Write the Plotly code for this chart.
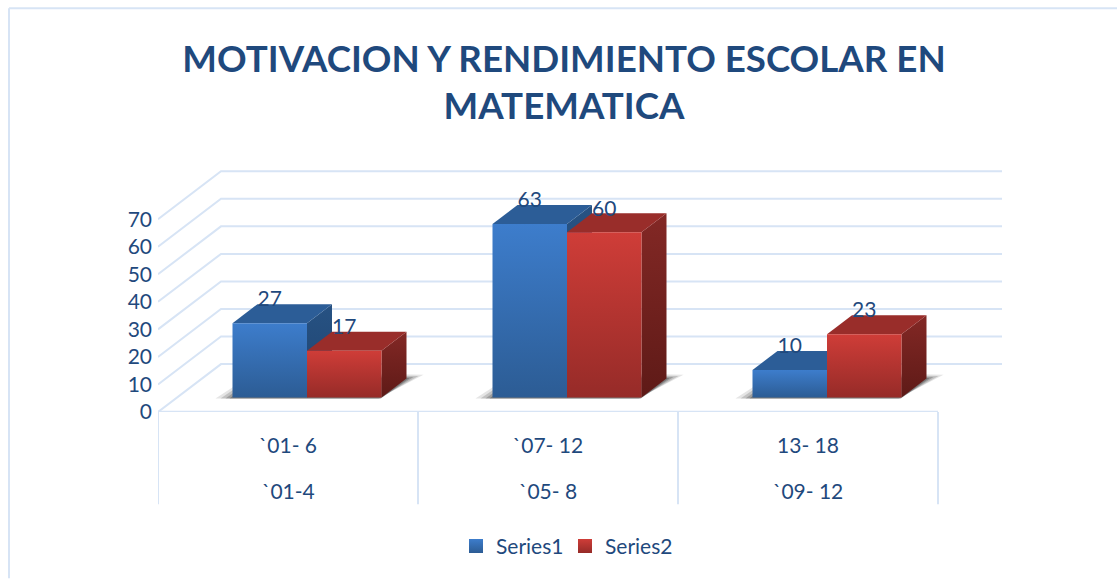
import plotly.graph_objects as go

# ---- data ----
title_text = "MOTIVACION Y RENDIMIENTO ESCOLAR EN<br>MATEMATICA"
row1_labels = ["`01- 6", "`07- 12", "13- 18"]
row2_labels = ["`01-4", "`05- 8", "`09- 12"]
series1 = [27, 63, 10]
series2 = [17, 60, 23]
series_names = ["Series1", "Series2"]
y_ticks = [0, 10, 20, 30, 40, 50, 60, 70]

# ---- layout geometry ----
W, H = 1117, 579
PL, PR, PT, PB = 158, 1002, 160, 412.5      # plot box in pixels
PX_PER_CAT = 260.0
PX_PER_VAL = 2.76
x_rng = [-0.5, -0.5 + (PR - PL) / PX_PER_CAT]
y_rng = [0, (PB - PT) / PX_PER_VAL]


def dx(px):
    return px / PX_PER_CAT


def dy(px):
    return px / PX_PER_VAL


def paper_x(px):
    return (px - PL) / (PR - PL)


def paper_y(px):
    return (PB - px) / (PB - PT)


WALL_DX, WALL_DY = dx(63), dy(48)
BAR_W = dx(74.5)
DEPTH_X, DEPTH_Y = dx(25), dy(19)
FLOOR_X, FLOOR_Y = dx(19), dy(14.5)

TEXT = "#1F497D"
GRID = "#D7E4F5"
FONT = "Lato"

styles = [
    dict(front=["#3D7DCC", "#2C5C94"], top="#2C5D97", side=["#275283", "#1F4470"]),
    dict(front=["#CF3D38", "#962B28"], top="#992D2A", side=["#832825", "#5E1A17"]),
]

fig = go.Figure()


def poly(xs, ys, **kw):
    fig.add_trace(go.Scatter(x=xs + xs[:1], y=ys + ys[:1], mode="lines", fill="toself",
                             line=dict(width=0), hoverinfo="skip", showlegend=False, **kw))


# grid: front-left diagonals and back wall lines
for v in y_ticks:
    fig.add_trace(go.Scatter(x=[-0.5, -0.5 + WALL_DX, x_rng[1]],
                             y=[v, v + WALL_DY, v + WALL_DY],
                             mode="lines", line=dict(color=GRID, width=2),
                             hoverinfo="skip", showlegend=False, cliponaxis=False))
# floor front edge
fig.add_trace(go.Scatter(x=[-0.5, 2.5], y=[0, 0], mode="lines",
                         line=dict(color=GRID, width=2.5), hoverinfo="skip",
                         showlegend=False, cliponaxis=False))

# floor shadows
for i in range(3):
    x0 = i + FLOOR_X - BAR_W
    x1 = i + FLOOR_X + BAR_W
    for grow, alpha in [(17, 0.12), (12, 0.18), (7, 0.24), (3, 0.3)]:
        g = dx(grow)
        lift = dy(grow * 0.22)
        poly([x0 - g, x1 - g * 0.2, x1 + DEPTH_X + g, x0 + DEPTH_X],
             [FLOOR_Y - dy(1), FLOOR_Y - dy(1), FLOOR_Y + DEPTH_Y + lift, FLOOR_Y + DEPTH_Y + lift * 2],
             fillcolor=f"rgba(40,40,40,{alpha})")

# bars: one prism per value
for i in range(3):
    for s, values in enumerate([series1, series2]):
        st = styles[s]
        v = values[i]
        x0 = i + FLOOR_X - BAR_W + s * BAR_W
        x1 = x0 + BAR_W
        b = FLOOR_Y
        t = FLOOR_Y + v
        # side
        poly([x1, x1 + DEPTH_X, x1 + DEPTH_X, x1], [b, b + DEPTH_Y, t + DEPTH_Y, t],
             fillgradient=dict(type="vertical", colorscale=[[0, st["side"][1]], [1, st["side"][0]]]))
        # top
        poly([x0, x1, x1 + DEPTH_X, x0 + DEPTH_X], [t, t, t + DEPTH_Y, t + DEPTH_Y],
             fillcolor=st["top"])
        # front
        poly([x0, x1, x1, x0], [b, b, t, t],
             fillgradient=dict(type="vertical", colorscale=[[0, st["front"][1]], [1, st["front"][0]]]))

# value labels
for s, values in enumerate([series1, series2]):
    fig.add_trace(go.Scatter(
        x=[i + FLOOR_X - BAR_W + (s + 0.5) * BAR_W for i in range(3)],
        y=[FLOOR_Y + v + DEPTH_Y + dy(3) for v in values],
        mode="text", text=[str(v) for v in values], textposition="middle center",
        textfont=dict(family=FONT, size=21, color=TEXT),
        hoverinfo="skip", showlegend=False, cliponaxis=False))

# legend entries
for s, name in enumerate(series_names):
    fig.add_trace(go.Scatter(
        x=[None], y=[None], mode="markers", name=name,
        marker=dict(symbol="square", size=14, color=styles[s]["front"][0],
                    gradient=dict(type="vertical", color=styles[s]["front"][1]))))

shapes = []
for k in range(4):
    shapes.append(dict(type="line", xref="x", yref="paper", x0=-0.5 + k, x1=-0.5 + k,
                       y0=0, y1=paper_y(505), line=dict(color=GRID, width=2), layer="below"))
# outer chart frame
shapes.append(dict(type="line", xref="paper", yref="paper", x0=paper_x(9), x1=paper_x(W),
                   y0=paper_y(8), y1=paper_y(8), line=dict(color=GRID, width=2)))
shapes.append(dict(type="line", xref="paper", yref="paper", x0=paper_x(9), x1=paper_x(9),
                   y0=paper_y(8), y1=paper_y(H), line=dict(color=GRID, width=2)))

annotations = [dict(x=i, y=paper_y(491), xref="x", yref="paper", text=t, showarrow=False,
                    xanchor="center", yanchor="middle",
                    font=dict(family=FONT, size=21, color=TEXT))
               for i, t in enumerate(row2_labels)]

fig.update_layout(
    width=W, height=H,
    margin=dict(l=PL, r=W - PR, t=PT, b=H - PB, pad=0),
    paper_bgcolor="white", plot_bgcolor="rgba(0,0,0,0)",
    title=dict(text=title_text, x=564 / W, xanchor="center", y=1 - 71.5 / H, yanchor="middle",
               font=dict(family=FONT, size=36.7, color=TEXT, weight="bold")),
    xaxis=dict(range=x_rng, tickmode="array", tickvals=[0, 1, 2], ticktext=row1_labels,
               showgrid=False, zeroline=False, showline=False, ticks="",
               ticklabelstandoff=19, tickfont=dict(family=FONT, size=21, color=TEXT)),
    yaxis=dict(range=y_rng, tickmode="array", tickvals=y_ticks,
               ticktext=[str(v) for v in y_ticks],
               showgrid=False, zeroline=False, showline=False, ticks="",
               ticklabelstandoff=5, tickfont=dict(family=FONT, size=21, color=TEXT)),
    legend=dict(orientation="h", x=paper_x(456), xanchor="left", y=paper_y(547),
                yanchor="middle", font=dict(family=FONT, size=21, color=TEXT),
                entrywidth=64, entrywidthmode="pixels",
                bgcolor="rgba(0,0,0,0)"),
    shapes=shapes, annotations=annotations,
)

fig.write_html("out.html", config={"displayModeBar": False},
               post_script="document.body.style.margin='0';")
